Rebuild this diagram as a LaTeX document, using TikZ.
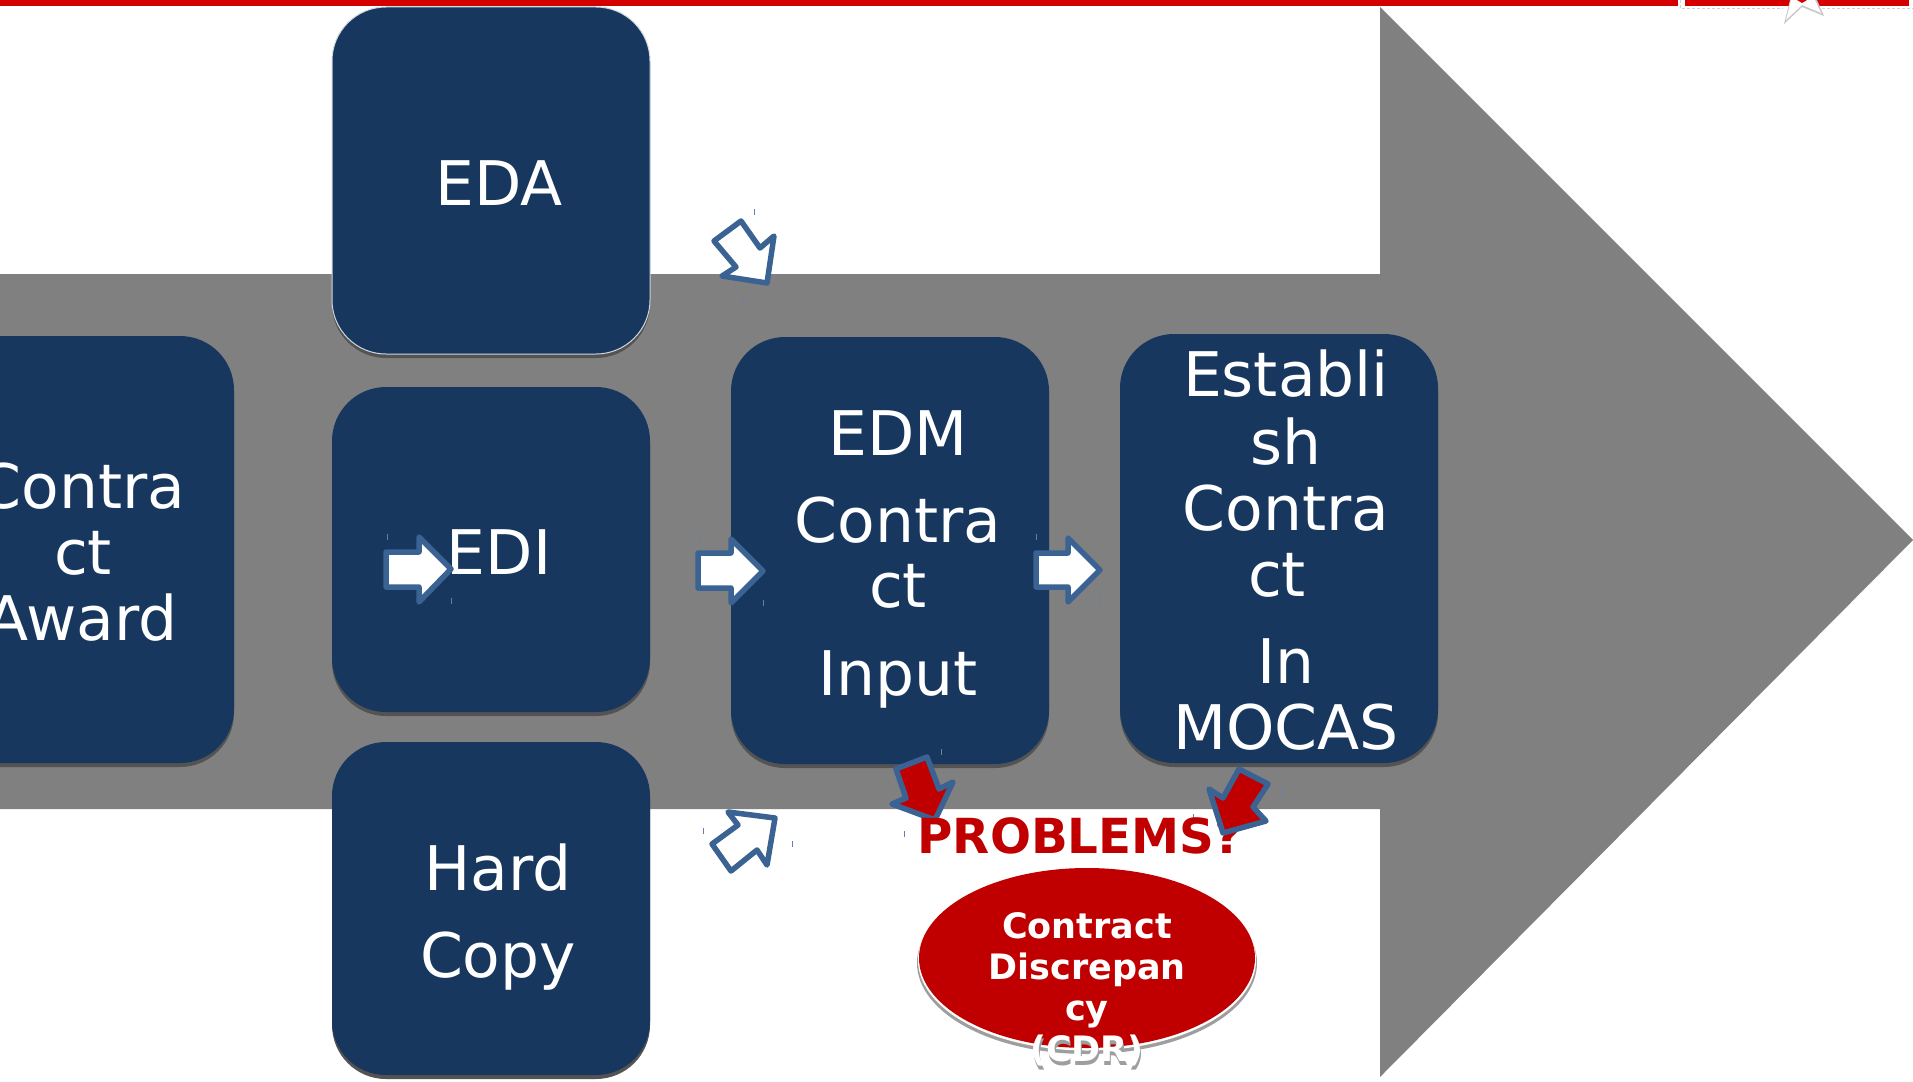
\documentclass[tikz,border=0pt]{standalone}
\usepackage{fontspec}
\setmainfont{DejaVu Sans}
\definecolor{navy}{HTML}{17375E}
\definecolor{bigarrow}{HTML}{808080}
\definecolor{cdrred}{HTML}{C00000}
\definecolor{topred}{HTML}{D40000}
\definecolor{edgeblue}{HTML}{3A6292}
\tikzset{
  navybox/.style={rectangle,rounded corners=54pt,inner sep=0pt,fill=navy,
    preaction={fill=black!35!bigarrow,transform canvas={yshift=-4pt}}},
  lbl/.style={anchor=base,inner sep=0pt,text=white,font=\fontsize{61.5}{66}\selectfont},
  whitearrow/.style={draw=edgeblue,fill=white,line width=5.5pt,line join=round},
  redarrow/.style={draw=edgeblue,fill=cdrred,line width=5.5pt,line join=round},
  tick/.style={draw=edgeblue!80,line width=1pt},
  cdrlbl/.style={anchor=base,inner sep=0pt,text=white,font=\bfseries\fontsize{35}{42}\selectfont},
}
\begin{document}
\begin{tikzpicture}[x=1pt,y=-1pt]
\useasboundingbox (0,0) rectangle (1913,1081);
\fill[white] (0,0) rectangle (1913,1081);
% top band
\fill[topred] (0,0) rectangle (1678,6);
\fill[topred] (1685,0) rectangle (1909,6.5);
\draw[black!18,line width=.7pt,densely dashed] (1680,0) -- (1680,8) -- (1783,8);
\draw[black!18,line width=.7pt,densely dashed] (1822,8) -- (1913,8);
\fill[black!22] (1784,24) -- (1790,0) -- (1817,0) -- (1824,16) -- (1802,7) -- cycle;
\fill[white] (1786,20) -- (1791,0) -- (1815,0) -- (1821,13) -- (1802,5) -- cycle;
\fill[topred] (1797,0) -- (1802,3) -- (1807,0) -- cycle;
% big arrow
\fill[bigarrow] (0,274) -- (1380,274) -- (1380,7) -- (1913,540) -- (1380,1077) -- (1380,809) -- (0,809) -- cycle;
% boxes
\node[navybox,draw=white!80!navy,line width=1pt,minimum width=318pt,minimum height=347pt] (edabox) at (491,180.5) {};
\node[navybox,minimum width=318pt,minimum height=325pt] (edibox) at (491,549.5) {};
\node[navybox,minimum width=318pt,minimum height=333pt] (hardbox) at (491,908.5) {};
\node[navybox,minimum width=318pt,minimum height=427pt] (awardbox) at (75,549.5) {};
\node[navybox,minimum width=318pt,minimum height=427pt] (edmbox) at (890,550.5) {};
\node[navybox,minimum width=318pt,minimum height=429pt] (estbox) at (1279,548.5) {};
% box labels
\node[lbl] (eda) at (499,205) {EDA};
\node[lbl] (edi) at (499,574) {EDI};
\node[lbl] (hard) at (498,890) {Hard};
\node[lbl] (copy) at (498,977) {Copy};
\node[lbl] (aw1) at (82,508) {Contra};
\node[lbl] (aw2) at (83,574) {ct};
\node[lbl] (aw3) at (82,640) {Award};
\node[lbl] (edm1) at (898,455) {EDM};
\node[lbl] (edm2) at (898,542) {Contra};
\node[lbl] (edm3) at (898,607) {ct};
\node[lbl] (edm4) at (898,695) {Input};
\node[lbl] (est1) at (1286,396) {Establi};
\node[lbl] (est2) at (1286,464) {sh};
\node[lbl] (est3) at (1286,530) {Contra};
\node[lbl] (est4) at (1277,596) {ct};
\node[lbl] (est5) at (1286,683) {In};
\node[lbl] (est6) at (1286,749) {MOCAS};
% white block arrows
\draw[whitearrow] (741,221) -- (760,248) -- (774,236) -- (767,283) -- (722,276) -- (736,267) -- (714,241) -- cycle;
\draw[whitearrow] (386,552) -- (419,552) -- (419,537) -- (451,569) -- (419,602) -- (419,587) -- (386,587) -- cycle;
\draw[whitearrow] (698,553) -- (731,553) -- (731,539) -- (763,571) -- (731,603) -- (731,588) -- (698,588) -- cycle;
\draw[whitearrow] (1036,553) -- (1068,553) -- (1068,538) -- (1100,570) -- (1068,602) -- (1068,587) -- (1036,587) -- cycle;
\draw[whitearrow] (728,812) -- (775,818) -- (767,865) -- (757,850) -- (731,871) -- (712,844) -- (738,825) -- cycle;
% red block arrow under the text
\draw[redarrow] (927,757) -- (939,789) -- (953,782) -- (935,820) -- (892,804) -- (906,798) -- (896,769) -- cycle;
% small ticks
\foreach \tx/\ty in {754/212,742/302,387/537,451/601,699/538,763/603,1036/537,1099/600,703/831,792/844,941/752,904/834,1281/793,1193/817}
  \draw[tick] (\tx,\ty-3) -- (\tx,\ty+3);
% problems
\node[anchor=base,inner sep=0pt,text=cdrred,font=\bfseries\fontsize{48.3}{52}\selectfont] (problems) at (1080,853) {PROBLEMS?};
% red block arrow over the text
\draw[redarrow] (1239,769) -- (1268,784) -- (1253,807) -- (1266,821) -- (1223,833) -- (1209,789) -- (1223,798) -- cycle;
% ellipse
\fill[black!38] (1087,963) ellipse [x radius=170,y radius=91];
\fill[white] (1087,960) ellipse [x radius=169,y radius=90.5];
\fill[cdrred] (1087,958) ellipse [x radius=168,y radius=90];
\node[cdrlbl] (c1) at (1087,938) {Contract};
\node[cdrlbl] (c2) at (1087,979) {Discrepan};
\node[cdrlbl] (c3) at (1087,1020) {cy};
\node[cdrlbl,text=black!38] (c4s) at (1088,1065) {(CDR)};
\node[cdrlbl] (c4) at (1087,1061) {(CDR)};
\end{tikzpicture}
\end{document}
